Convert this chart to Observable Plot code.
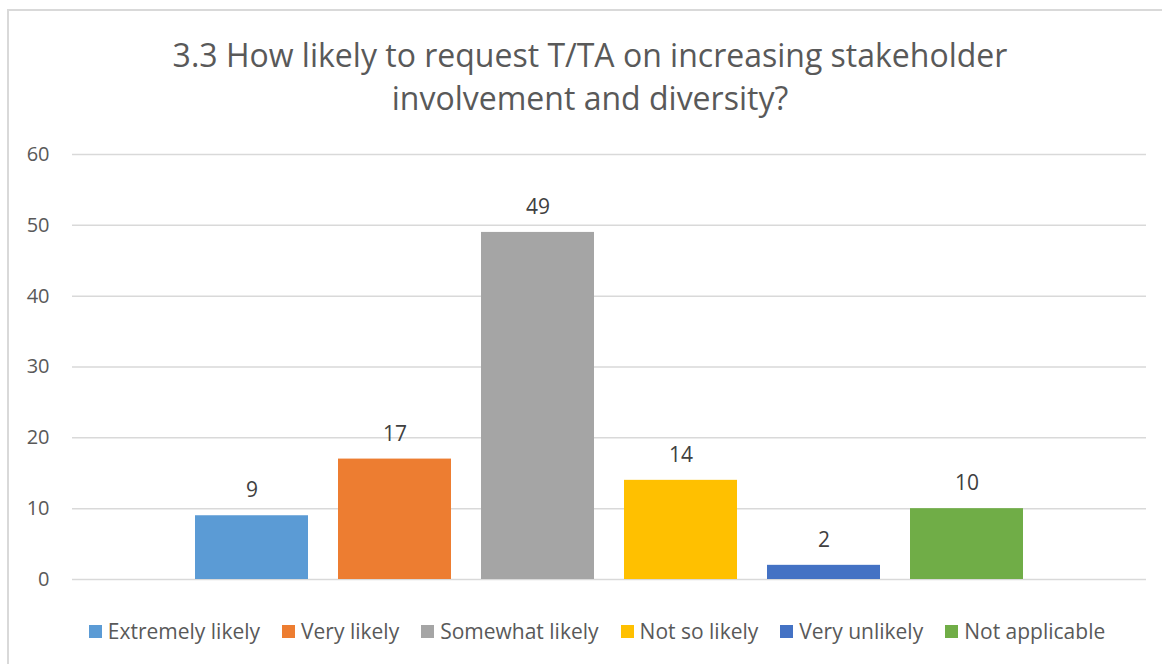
<!DOCTYPE html>
<html>
<head>
<meta charset="utf-8">
<script src="https://cdn.jsdelivr.net/npm/d3@7"></script>
<script src="https://cdn.jsdelivr.net/npm/@observablehq/plot@0.6"></script>
<style>
  html, body { margin: 0; padding: 0; background: #fff; }
  #wrap { position: relative; width: 1162px; height: 664px; overflow: hidden; font-family: "Open Sans", "Noto Sans", sans-serif; color: #595959; }
  #frame { position: absolute; left: 7px; top: 9px; width: 1200px; height: 700px; border: 2px solid #D9D9D9; box-sizing: border-box; }
  #title { position: absolute; left: 0; top: 33px; width: 1180px; text-align: center; font-size: 32px; line-height: 43px; color: #595959; }
  #chart { position: absolute; left: 0; top: 130px; }
  #legend { position: absolute; left: 0; top: 616px; width: 1194px; display: flex; justify-content: center; font-size: 21px; line-height: 30px; color: #595959; }
  .item { display: flex; align-items: center; margin: 0 11px; }
  .sw { width: 13px; height: 13px; margin-right: 6px; }
</style>
</head>
<body>
<div id="wrap">
  <div id="frame"></div>
  <div id="title">3.3 How likely to request T/TA on increasing stakeholder<br>involvement and diversity?</div>
  <div id="chart"></div>
  <div id="legend"></div>
</div>
<script>
const categories = ["Extremely likely", "Very likely", "Somewhat likely", "Not so likely", "Very unlikely", "Not applicable"];
const values = [9, 17, 49, 14, 2, 10];
const colors = ["#5B9BD5", "#ED7D31", "#A5A5A5", "#FFC000", "#4472C4", "#70AD47"];
const yTicks = [0, 10, 20, 30, 40, 50, 60];

const data = categories.map((c, i) => ({category: c, value: values[i]}));

const plot = Plot.plot({
  width: 1162,
  height: 479,
  marginTop: 24,
  marginBottom: 30,
  marginLeft: 72,
  marginRight: 16,
  style: {fontFamily: "'Open Sans', 'Noto Sans', sans-serif", fontSize: "20px", color: "#595959", background: "transparent"},
  x: {domain: categories, paddingInner: 0.2098, paddingOuter: 0.86, axis: null},
  y: {domain: [0, 60], ticks: yTicks, label: null},
  color: {domain: categories, range: colors},
  marks: [
    Plot.ruleY(yTicks, {stroke: "#D9D9D9", strokeWidth: 1.5}),
    Plot.axisY({ticks: yTicks, tickSize: 0, tickPadding: 23, label: null, fill: "#595959", fontSize: 20}),
    Plot.barY(data, {x: "category", y: "value", fill: "category"}),
    Plot.text(data, {x: "category", y: "value", text: d => String(d.value), dy: -25, fill: "#404040", fontSize: 21})
  ]
});
document.getElementById("chart").appendChild(plot);

const legend = document.getElementById("legend");
categories.forEach((c, i) => {
  const item = document.createElement("div");
  item.className = "item";
  const sw = document.createElement("span");
  sw.className = "sw";
  sw.style.background = colors[i];
  const lab = document.createElement("span");
  lab.textContent = c;
  item.appendChild(sw);
  item.appendChild(lab);
  legend.appendChild(item);
});
</script>
</body>
</html>
